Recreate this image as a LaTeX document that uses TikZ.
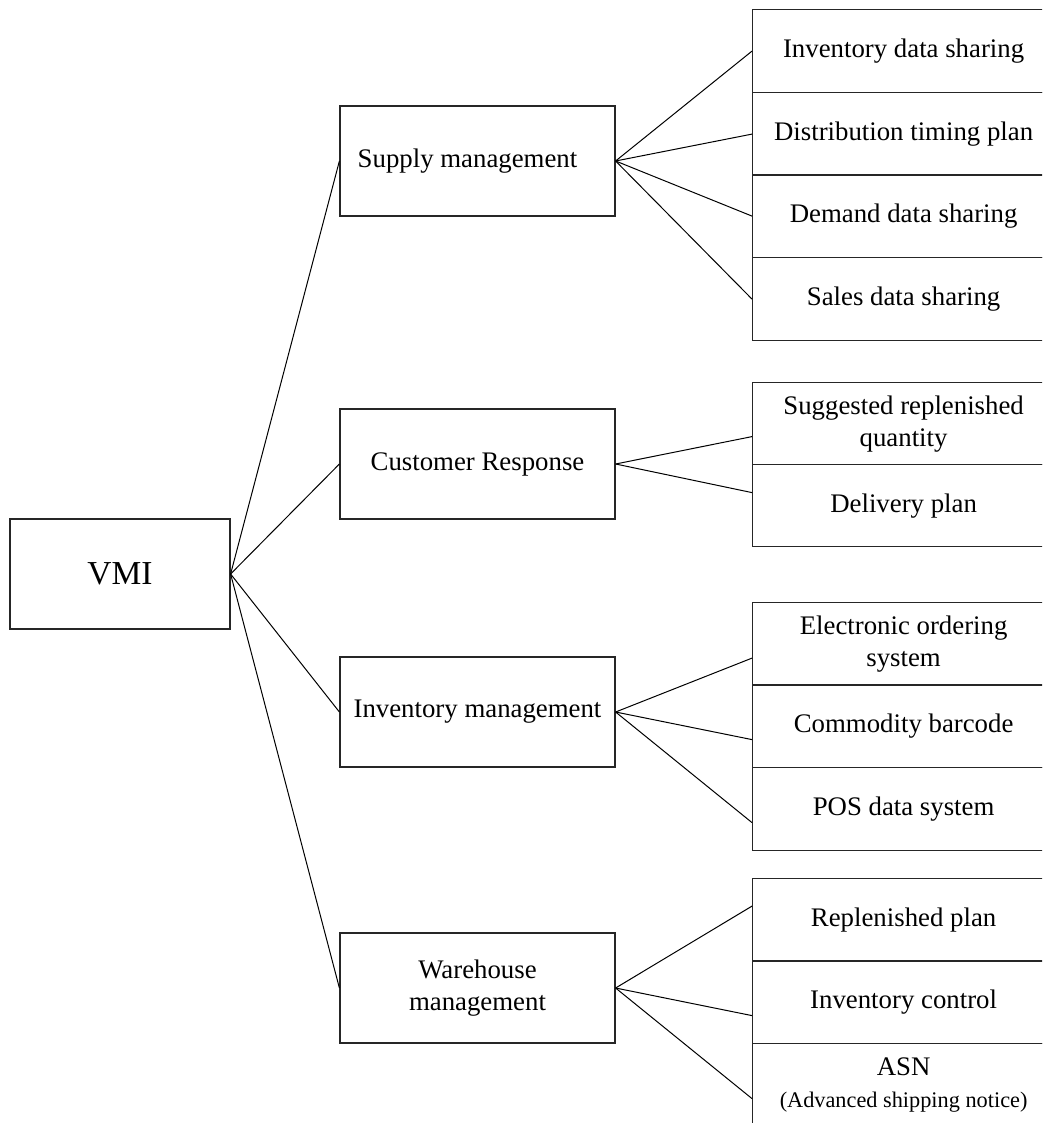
\documentclass[tikz,border=0pt]{standalone}
\usepackage{fontspec}
\setmainfont{Liberation Serif}
\usetikzlibrary{calc}
\begin{document}
\begin{tikzpicture}[x=1pt,y=-1pt,
  box/.style={draw=black!85, line width=1.2pt, inner sep=0pt, align=center, font=\fontsize{26.8}{32}\selectfont},
  midbox/.style={box, minimum width=275pt, minimum height=110pt},
  leaf/.style={box, anchor=north west, minimum width=302pt, minimum height=83pt},
  link/.style={line width=1pt}]
\useasboundingbox (0,0) rectangle (1042,1123);
\clip (0,0) rectangle (1042,1123);
% root
\node[box, minimum width=220pt, minimum height=110pt, font=\fontsize{33.5}{40}\selectfont] (vmi) at (120,574) {VMI};
% middle level
\node[midbox] (sup) at (477.5,161) {Supply management\hspace{20pt}};
\node[midbox] (cus) at (477.5,464) {Customer Response};
\node[midbox] (inv) at (477.5,712) {Inventory management};
\node[midbox] (war) at (477.5,988) {Warehouse\\management};
% leaves: supply
\node[leaf] (s1) at (752,9) {Inventory data sharing};
\node[leaf] (s2) at (752,92) {Distribution timing plan};
\node[leaf] (s3) at (752,174) {Demand data sharing};
\node[leaf] (s4) at (752,257) {Sales data sharing};
% leaves: customer
\node[leaf, minimum height=82pt] (c1) at (752,382) {Suggested replenished\\quantity};
\node[leaf, minimum height=82pt] (c2) at (752,464) {Delivery plan};
% leaves: inventory
\node[leaf] (i1) at (752,602) {Electronic ordering\\system};
\node[leaf] (i2) at (752,684) {Commodity barcode};
\node[leaf] (i3) at (752,767) {POS data system};
% leaves: warehouse
\node[leaf] (w1) at (752,878) {Replenished plan};
\node[leaf] (w2) at (752,960) {Inventory control};
\node[leaf] (w3) at (752,1043) {ASN\\{\fontsize{22.3}{27}\selectfont (Advanced shipping notice)}};
% connectors root -> middle
\draw[link] (vmi.east) -- (sup.west);
\draw[link] (vmi.east) -- (cus.west);
\draw[link] (vmi.east) -- (inv.west);
\draw[link] (vmi.east) -- (war.west);
% supply
\draw[link] (sup.east) -- (s1.west);
\draw[link] (sup.east) -- (s2.west);
\draw[link] (sup.east) -- (s3.west);
\draw[link] (sup.east) -- (s4.west);
% customer
\draw[link] (cus.east) -- ($(c1.west)+(0,13)$);
\draw[link] (cus.east) -- ($(c2.west)+(0,-13)$);
% inventory
\draw[link] (inv.east) -- ($(i1.west)+(0,14)$);
\draw[link] (inv.east) -- ($(i2.west)+(0,13.5)$);
\draw[link] (inv.east) -- ($(i3.west)+(0,13.5)$);
% warehouse
\draw[link] (war.east) -- ($(w1.west)+(0,-14)$);
\draw[link] (war.east) -- ($(w2.west)+(0,13.5)$);
\draw[link] (war.east) -- ($(w3.west)+(0,13.5)$);
\end{tikzpicture}
\end{document}
